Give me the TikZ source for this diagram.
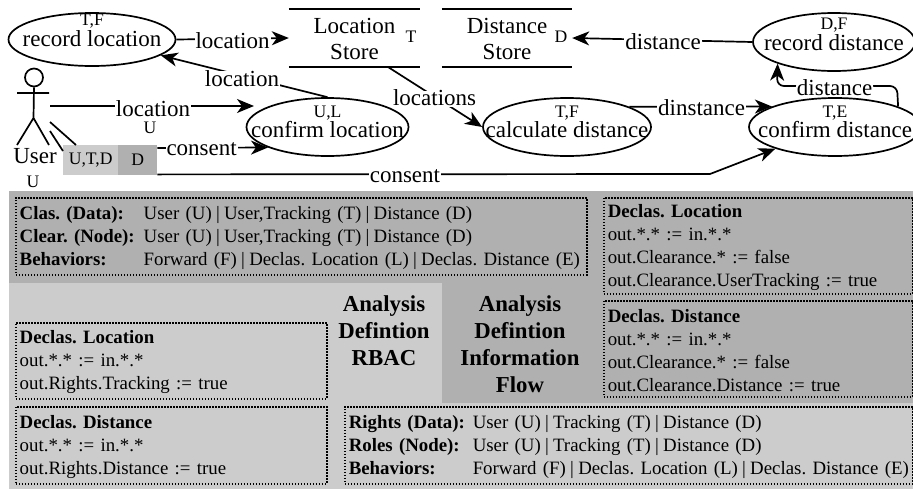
\documentclass[tikz,border=0pt]{standalone}
\usepackage{fontspec}
\setmainfont{Liberation Serif}
\usetikzlibrary{arrows.meta,shapes.geometric}
\definecolor{darkbg}{HTML}{B0B0B0}
\definecolor{lightbg}{HTML}{CCCCCC}
\newcommand{\bigf}{\fontsize{23}{21}\selectfont}
\newcommand{\smf}{\fontsize{17.6}{17.6}\selectfont}
\newcommand{\boxf}{\fontsize{18.85}{23}\selectfont\frenchspacing}
\newcommand{\elltxt}[4]{\makebox[0pt]{\raisebox{#3pt}[0pt][0pt]{\smf #1}}\makebox[0pt]{\raisebox{#4pt}[0pt][0pt]{#2}}}
\newcommand{\colA}[1]{\makebox[124pt][l]{\textbf{#1}}}
\newcommand{\bsep}{\hspace{-2pt}|\hspace{-2pt}}
\newcommand{\firstpad}{\rule{0pt}{16pt}}
\tikzset{
  proc/.style={ellipse,draw,line width=1.7pt,inner sep=0pt,font=\bigf},
  store/.style={inner sep=0pt,align=center,font=\bigf,minimum height=58pt},
  storeline/.style={line width=1.7pt},
  flow/.style={line width=1.7pt,-{Stealth[length=17pt,width=14pt,inset=5pt]}},
  plain/.style={line width=1.7pt},
  lab/.style={fill=white,inner xsep=1pt,inner ysep=0pt,font=\bigf,text height=15pt,text depth=1pt},
  tag/.style={inner sep=0pt,font=\smf},
  dbox/.style={draw,line width=1.5pt,dash pattern=on 1.5pt off 1.5pt,inner ysep=0pt,inner xsep=4pt,
    anchor=north west,align=left,font=\boxf},
  title/.style={inner sep=0pt,align=center,font=\fontsize{22.8}{27}\selectfont\bfseries},
  swatch/.style={inner sep=0pt,font=\smf,minimum height=30pt,anchor=north west},
}
\begin{document}
\begin{tikzpicture}[x=1pt,y=-1pt]
\useasboundingbox (0,0) rectangle (913,490);
\clip (0,0) rectangle (913,490);
% backgrounds
\fill[darkbg] (9,191) rectangle (913,489);
\fill[lightbg] (9,283) rectangle (442,489);
\fill[lightbg] (342,403) rectangle (913,489);
% processes
\node[proc,minimum width=167pt,minimum height=53pt] (recloc) at (92,39.5) {\elltxt{T,F}{record location}{14.5}{-6.5}};
\node[proc,minimum width=162pt,minimum height=58pt] (conloc) at (327.5,127) {\elltxt{U,L}{confirm location}{10}{-10}};
\node[proc,minimum width=168pt,minimum height=58pt] (calc) at (567,127) {\elltxt{T,F}{calculate distance}{10}{-10}};
\node[proc,minimum width=172pt,minimum height=58pt] (condist) at (835,127) {\elltxt{T,E}{confirm distance}{10}{-10}};
\node[proc,minimum width=162pt,minimum height=58pt] (recdist) at (834,42) {\elltxt{D,F}{record distance}{13}{-8}};
% stores
\node[store,minimum width=131pt] (locstore) at (354.5,38) {\rule{0pt}{18pt}Location\\[5pt]Store};
\node[store,minimum width=130pt] (diststore) at (507,38) {\rule{0pt}{18pt}Distance\\[5pt]Store};
\draw[storeline] (locstore.north west) -- (locstore.north east) (locstore.south west) -- (locstore.south east);
\draw[storeline] (diststore.north west) -- (diststore.north east) (diststore.south west) -- (diststore.south east);
\node[tag] (tstore) at (411,37) {T};
\node[tag] (dstore) at (561,37) {D};
% actor
\node[circle,draw,line width=1.7pt,inner sep=0pt,minimum size=18pt] (head) at (34,77.5) {};
\coordinate (hip) at (33.5,118);
\coordinate (armL) at (17,93);
\coordinate (armR) at (49,93);
\coordinate (legL) at (17,145);
\coordinate (legR) at (49,145);
\draw[plain] (head.south) -- (hip) (armL) -- (armR) (legL) -- (hip) -- (legR);
\node[inner sep=0pt,font=\bigf,anchor=base] (user) at (35,163) {User};
\node[tag,anchor=base] (userU) at (33,187) {U};
% classification tags
\node[swatch,fill=lightbg,minimum width=55pt] (utd) at (63,145) {U,T,D};
\node[swatch,fill=darkbg,minimum width=39pt] (dtag) at (118,145) {D};
\coordinate (userout) at (50,106);
\coordinate (userc1) at (50,122);
\coordinate (userc2) at (50,131);
\coordinate (confin) at (254,106);
\draw[plain] (userc1) -- ([xshift=13pt]utd.north west);
\draw[plain] (userc2) -- ([yshift=-6pt]utd.north west);
% connectors
\draw[flow] (recloc.east) -- node[lab,pos=.5,yshift=-3pt] (l1) {location} (locstore.west);
\draw[flow] (conloc.north) -- node[lab,pos=.513,yshift=-3.5pt] (l2) {location} (recloc.-13);
\draw[flow] (userout) -- node[lab,pos=.505,yshift=-3pt] (l3) {location} (confin);
\node[tag] (l3u) at (150,128) {U};
\draw[flow] ([yshift=-3pt]dtag.north east) -- node[lab,pos=.4,yshift=-1pt] (c1) {consent} (conloc.199);
\coordinate (bend) at (710,174);
\draw[flow] ([yshift=1pt]dtag.south east) -- node[lab,pos=.448,yshift=-1pt] (c2) {consent} (bend) -- (condist.200);
\coordinate (locout) at (388,67);
\draw[flow] (locout) -- node[lab,pos=.495,yshift=-2pt] (l4) {locations} (calc.west);
\draw[flow] (calc.18) -- node[lab,pos=.507,yshift=-2pt] (d1) {dinstance} (condist.162);
\draw[flow] (recdist.west) -- node[lab,pos=.495,yshift=-2pt] (d2) {distance} (diststore.east);
\coordinate (c3a) at (897,86);
\coordinate (c3b) at (777,86);
\draw[flow,rounded corners=7pt] (condist.18) -- (c3a) -- node[lab,pos=.52,yshift=-2pt] (d3) {distance} (c3b) -- (recdist.201);
% definition boxes
\node[dbox,text width=563pt,minimum height=77pt] (clas) at (15,197) {%
\firstpad\colA{Clas. (Data):}User (U) \bsep{} User,Tracking (T) \bsep{} Distance (D)\\
\colA{Clear. (Node):}User (U) \bsep{} User,Tracking (T) \bsep{} Distance (D)\\
\mbox{\colA{Behaviors:}Forward (F) \bsep{} Declas. Location (L) \bsep{} Declas. Distance (E)}};
\node[dbox,text width=301pt,minimum height=96pt] (rloc) at (603,197) {%
\firstpad\textbf{Declas. Location}\\out.*.* := in.*.*\\out.Clearance.* := false\\out.Clearance.UserTracking := true};
\node[dbox,text width=301pt,minimum height=96pt] (rdist) at (603,300) {%
\firstpad\textbf{Declas. Distance}\\out.*.* := in.*.*\\out.Clearance.* := false\\out.Clearance.Distance := true};
\node[dbox,text width=303pt,minimum height=76pt] (lloc) at (15,322) {%
\firstpad\textbf{Declas. Location}\\out.*.* := in.*.*\\out.Rights.Tracking := true};
\node[dbox,text width=303pt,minimum height=77pt] (ldist) at (15,406) {%
\firstpad\textbf{Declas. Distance}\\out.*.* := in.*.*\\out.Rights.Distance := true};
\node[dbox,text width=560pt,minimum height=77pt] (rights) at (344,406) {%
\firstpad\colA{Rights (Data):}User (U) \bsep{} Tracking (T) \bsep{} Distance (D)\\
\colA{Roles (Node):}User (U) \bsep{} Tracking (T) \bsep{} Distance (D)\\
\mbox{\colA{Behaviors:}Forward (F) \bsep{} Declas. Location (L) \bsep{} Declas. Distance (E)}};
\node[title,anchor=base] (trbac) at (384,365) {Analysis\\Defintion\\RBAC};
\node[title,anchor=base] (tif) at (520,392) {Analysis\\Defintion\\Information\\Flow};
\end{tikzpicture}
\end{document}
